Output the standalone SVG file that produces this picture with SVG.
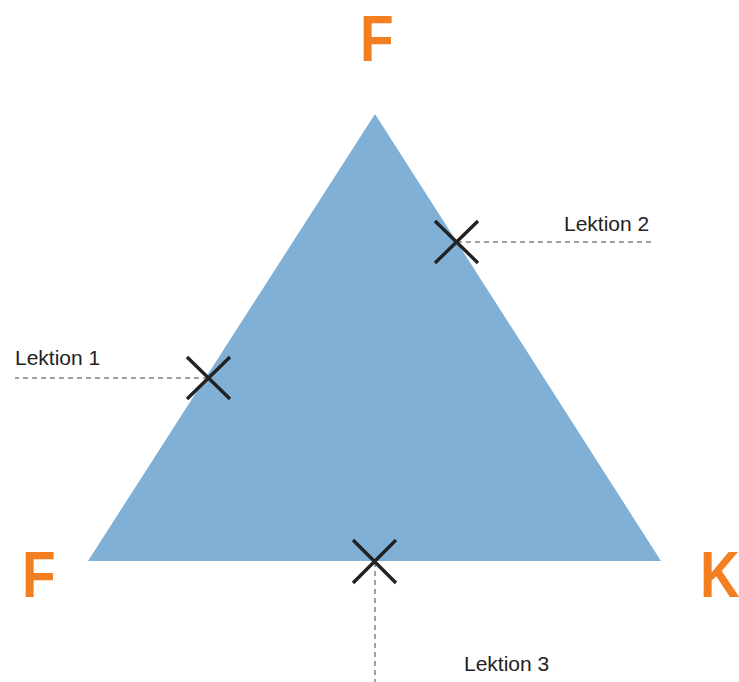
<svg xmlns="http://www.w3.org/2000/svg" width="739" height="682" viewBox="0 0 739 682">
<style>
.big{font-family:"Liberation Sans",Arial,sans-serif;font-weight:bold;font-size:64px;fill:#f47f20}
.lbl{font-family:"Liberation Sans",Arial,sans-serif;font-size:21px;fill:#222}
.x{stroke:#222;stroke-width:3.4;fill:none}
.d{stroke:#444;stroke-width:1;stroke-dasharray:5 4;fill:none}
</style>
<rect width="739" height="682" fill="#fff"/>
<g id="triangle"><polygon points="375,114 88,561 661,561" fill="#80b0d6"/></g>
<g id="labels-corner">
<text class="big" transform="translate(360,61) scale(0.86,1)">F</text>
<text class="big" transform="translate(22,597) scale(0.86,1)">F</text>
<text class="big" transform="translate(700,597) scale(0.86,1)">K</text>
</g>
<g id="connectors">
<line class="d" x1="208" y1="378" x2="15" y2="378"/>
<line class="d" x1="457" y1="242" x2="652" y2="242"/>
<line class="d" x1="375" y1="562" x2="375" y2="682"/>
</g>
<g id="lektion1">
<path class="x" d="M187,357 L230,399 M230,357 L187,399"/>
<text class="lbl" x="15" y="365">Lektion 1</text>
</g>
<g id="lektion2">
<path class="x" d="M435,221 L478,263 M478,221 L435,263"/>
<text class="lbl" x="564" y="231">Lektion 2</text>
</g>
<g id="lektion3">
<path class="x" d="M353,540 L396,583 M396,540 L353,583"/>
<text class="lbl" x="464" y="671">Lektion 3</text>
</g>
</svg>
